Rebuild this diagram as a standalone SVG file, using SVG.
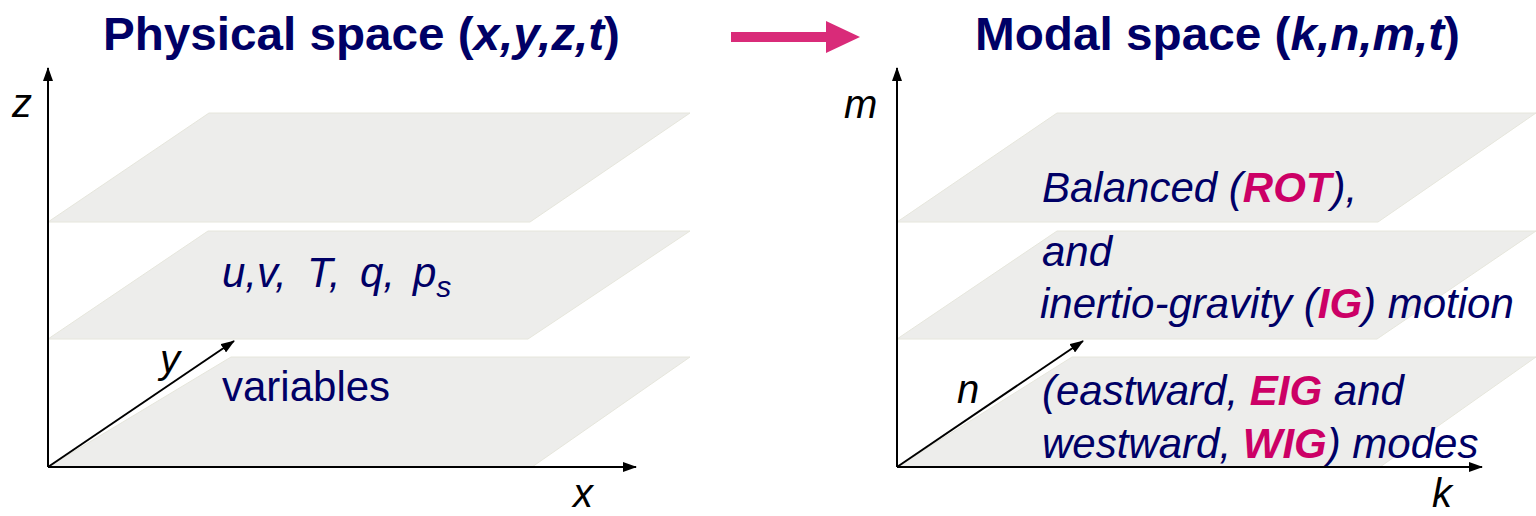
<svg xmlns="http://www.w3.org/2000/svg" width="1536" height="516" viewBox="0 0 1536 516">
<style>
.plane{fill:#ededeb;stroke:#e6e6dc;stroke-width:1}
.axis{stroke:#000;stroke-width:2;fill:none}
.title{font-family:"Liberation Sans",Arial,sans-serif;font-weight:bold;font-size:46px;fill:#000066}
.lbl{font-family:"Liberation Sans",Arial,sans-serif;font-style:italic;font-size:40px;fill:#000}
.body{font-family:"Liberation Sans",Arial,sans-serif;font-size:42px;fill:#000066}
.it{font-style:italic}
.hl{font-weight:bold;fill:#cc0066}
</style>
<defs>
<marker id="ah" viewBox="0 0 14 10" refX="13" refY="5" markerWidth="14" markerHeight="10" markerUnits="userSpaceOnUse" orient="auto">
<path d="M0,0 L14,5 L0,10 Z" fill="#000"/>
</marker>
</defs>
<rect width="1536" height="516" fill="#fff"/>

<g id="title-physical"><text class="title" x="103" y="50" textLength="517" lengthAdjust="spacingAndGlyphs">Physical space (<tspan class="it">x,y,z,t</tspan>)</text></g>
<g id="transform-arrow"><path d="M731,32 L826,32 L826,21 L860,37 L826,53 L826,42 L731,42 Z" fill="#d92b79"/></g>
<g id="title-modal"><text class="title" x="975" y="50" textLength="485" lengthAdjust="spacingAndGlyphs">Modal space (<tspan class="it">k,n,m,t</tspan>)</text></g>

<g id="physical-panel">
<polygon class="plane" points="209,113 690,113 530,222 48,222"/>
<polygon class="plane" points="208,231 690,231 528,339 48,339"/>
<polygon class="plane" points="231,357 690,357 532,467 48,467"/>
<text class="body it" y="287" font-size="44"><tspan x="222">u,v,</tspan><tspan x="307">T,</tspan><tspan x="360">q,</tspan><tspan x="413">p</tspan><tspan font-size="30" dy="10">s</tspan></text>
<text class="body" x="222" y="401">variables</text>
<text class="lbl" x="12" y="117">z</text>
<text class="lbl" x="573" y="507">x</text>
<text class="lbl" x="160" y="373">y</text>
</g>

<g id="modal-panel">
<polygon class="plane" points="1057,113 1536,113 1378,222 897,222"/>
<polygon class="plane" points="1057,231 1536,231 1377,339 897,339"/>
<polygon class="plane" points="1072,357 1536,357 1380,467 897,467"/>
<text class="body it" x="1042" y="202">Balanced (<tspan class="hl">ROT</tspan>),</text>
<text class="body it" x="1042" y="266">and</text>
<text class="body it" x="1040" y="318">inertio-gravity (<tspan class="hl">IG</tspan>) motion</text>
<text class="body it" x="1042" y="405">(eastward, <tspan class="hl">EIG</tspan> and</text>
<text class="body it" x="1042" y="458">westward, <tspan class="hl">WIG</tspan>) modes</text>
<text class="lbl" x="844" y="118">m</text>
<text class="lbl" x="957" y="403">n</text>
<text class="lbl" x="1432" y="507">k</text>
</g>

<g id="connectors">
<line class="axis" x1="48" y1="467" x2="48" y2="68" marker-end="url(#ah)"/>
<line class="axis" x1="48" y1="467" x2="636" y2="467" marker-end="url(#ah)"/>
<line class="axis" x1="48" y1="467" x2="234" y2="341" marker-end="url(#ah)"/>
<line class="axis" x1="897" y1="467" x2="897" y2="68" marker-end="url(#ah)"/>
<line class="axis" x1="897" y1="467" x2="1482" y2="467" marker-end="url(#ah)"/>
<line class="axis" x1="897" y1="467" x2="1083" y2="341" marker-end="url(#ah)"/>
</g>
</svg>
